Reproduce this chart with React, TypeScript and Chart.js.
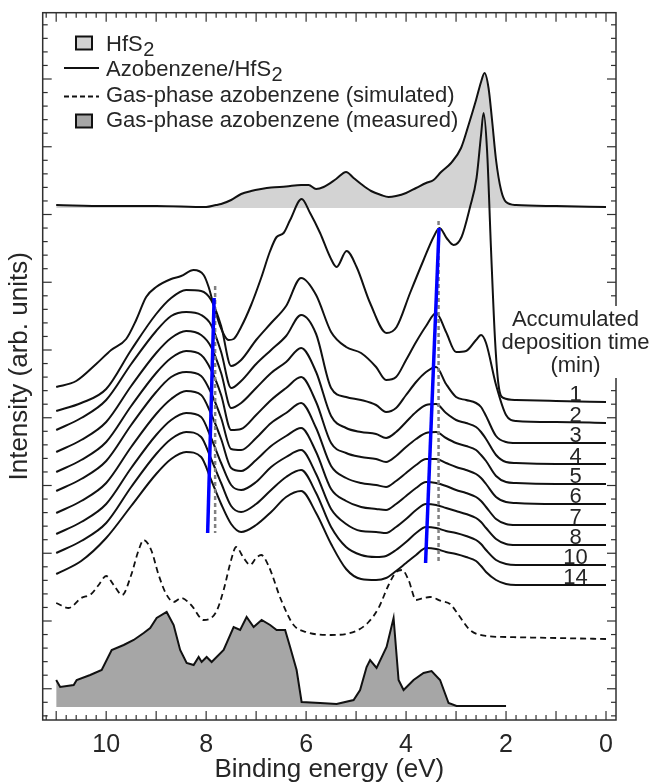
import React, { useEffect, useRef } from 'react';
import { Chart, registerables } from 'chart.js';

Chart.register(...registerables);

// ---------- data (binding energy in eV, intensity in arb. units) ----------
const T1_EV = [11.0, 10.6, 10.2, 9.9, 9.6, 9.4, 9.2, 9.0, 8.7, 8.5, 8.25, 8.05, 7.95, 7.85, 7.72, 7.55, 7.45, 7.3, 7.1, 6.9, 6.72, 6.59, 6.45, 6.32, 6.09, 5.92, 5.72, 5.52, 5.39, 5.19, 4.99, 4.72, 4.39, 4.19, 3.92, 3.65, 3.45, 3.33, 3.19, 3.05, 2.89, 2.72, 2.59, 2.5, 2.45, 2.38, 2.3, 2.22, 2.15, 2.05, 1.8, 1.0, 0.0];
const T1 = [333, 339, 356, 370, 381, 400, 423, 433, 441, 444, 450, 445, 433, 415, 394, 380, 381, 393, 415, 442, 469, 483, 487, 500, 521, 507, 487, 463, 453, 469, 453, 417, 387, 393, 427, 460, 483, 492, 482, 475, 483, 513, 542, 585, 607, 570, 470, 380, 335, 322, 320, 319, 318];

const GRID_EV = [11, 10.5, 10, 9.5, 9, 8.7, 8.4, 8.1, 7.9, 7.7, 7.5, 7.3, 7.0, 6.7, 6.4, 6.1, 5.8, 5.5, 5.2, 4.9, 4.6, 4.4, 4.2, 4.0, 3.8, 3.6, 3.4, 3.2, 3.0, 2.8, 2.6, 2.5, 2.4, 2.2, 2.0, 1.8, 1.0, 0];
const T2 = [309, 317, 331, 370, 406, 422, 430, 429, 420, 394, 354, 360, 380, 397, 414, 442, 425, 388, 373, 367, 353, 340, 343, 360, 378, 394, 407, 388, 368, 369, 380, 385, 377, 335, 305, 299, 298, 297];
const T3 = [290, 302, 320, 356, 389, 404, 408, 405, 395, 368, 332, 339, 356, 370, 384, 405, 386, 332, 323, 320, 315, 308, 312, 325, 338, 348, 353, 336, 323, 320, 317, 313, 304, 284, 278, 277, 277, 277];
const T4 = [268, 280, 298, 334, 367, 382, 389, 385, 373, 347, 312, 317, 332, 347, 358, 372, 348, 304, 292, 288, 286, 282, 288, 298, 308, 315, 316, 307, 300, 297, 293, 288, 281, 265, 258, 257, 256, 256];
const T5 = [248, 260, 278, 314, 347, 362, 369, 365, 350, 325, 290, 291, 305, 320, 332, 343, 318, 277, 267, 263, 261, 258, 264, 273, 281, 287, 288, 282, 277, 274, 270, 265, 259, 244, 238, 237, 236, 236];
const T6 = [229, 241, 259, 295, 328, 343, 348, 344, 327, 302, 271, 270, 282, 297, 307, 317, 292, 254, 242, 237, 235, 233, 239, 247, 255, 261, 261, 257, 253, 250, 246, 242, 236, 223, 218, 217, 216, 216];
const T7 = [207, 219, 237, 273, 306, 321, 329, 325, 306, 281, 252, 249, 260, 274, 284, 292, 268, 231, 219, 213, 211, 210, 216, 224, 232, 238, 237, 234, 230, 227, 223, 219, 213, 201, 196, 195, 195, 195];
const T8 = [186, 198, 216, 252, 285, 300, 307, 303, 282, 257, 235, 230, 238, 253, 263, 270, 246, 211, 196, 189, 188, 187, 193, 201, 210, 216, 215, 212, 209, 206, 202, 198, 192, 181, 176, 175, 175, 175];
const T10 = [167, 179, 197, 233, 266, 281, 288, 283, 261, 237, 214, 208, 216, 230, 243, 250, 227, 193, 173, 165, 163, 164, 170, 178, 187, 193, 192, 189, 187, 184, 180, 176, 170, 160, 156, 155, 155, 155];
const T14 = [146, 159, 182, 214, 246, 261, 268, 263, 240, 216, 196, 188, 195, 208, 223, 229, 207, 176, 151, 141, 140, 142, 149, 157, 165, 172, 171, 168, 166, 163, 159, 154, 148, 140, 136, 135, 135, 135];
const DEPOSITION_MIN = ['1', '2', '3', '4', '5', '6', '7', '8', '10', '14'];

const HFS2_EV = [11, 10, 9, 8, 7.8, 7.7, 7.5, 7.3, 7.1, 6.9, 6.7, 6.4, 6.1, 5.95, 5.8, 5.65, 5.4, 5.2, 5.05, 4.9, 4.7, 4.5, 4.35, 4.2, 4.0, 3.8, 3.6, 3.45, 3.3, 3.1, 2.9, 2.75, 2.6, 2.5, 2.43, 2.35, 2.28, 2.2, 2.1, 2.0, 1.8, 1.0, 0];
const HFS2 = [515, 514, 514, 513, 515, 516, 520, 526, 529, 531, 532.5, 533.5, 535, 535, 531, 533, 541, 548, 542, 536, 529, 525, 523, 524, 527, 532, 537, 540, 548, 557, 572, 595, 620, 638, 647, 632, 600, 560, 530, 518, 515, 514, 513];
const HFS2_BASE = 512;

const SIM_EV = [11, 10.75, 10.5, 10.3, 10.15, 10.0, 9.85, 9.68, 9.5, 9.35, 9.25, 9.1, 8.95, 8.8, 8.65, 8.5, 8.3, 8.05, 7.8, 7.65, 7.5, 7.4, 7.25, 7.12, 7.0, 6.9, 6.75, 6.5, 6.25, 6.0, 5.5, 5.0, 4.75, 4.55, 4.35, 4.2, 4.08, 3.95, 3.8, 3.65, 3.52, 3.3, 3.12, 2.95, 2.72, 2.4, 2.0, 1.0, 0.0];
const SIM = [117, 112, 122, 126, 135, 144, 135, 125, 145, 170, 180, 170, 145, 126, 118, 122, 115, 100, 108, 130, 160, 173, 162, 155, 162, 165, 154, 120, 95, 88, 85, 89, 98, 112, 135, 148, 150, 140, 120, 122, 123, 119, 116, 105, 90, 84, 83, 82, 81];

const MEAS_EV = [11, 10.92, 10.65, 10.59, 10.32, 10.09, 9.89, 9.65, 9.45, 9.25, 9.12, 8.99, 8.79, 8.65, 8.52, 8.39, 8.25, 8.15, 8.09, 7.99, 7.89, 7.65, 7.45, 7.32, 7.19, 7.05, 6.89, 6.72, 6.59, 6.42, 6.32, 6.19, 6.09, 5.72, 5.39, 5.05, 4.92, 4.79, 4.72, 4.59, 4.39, 4.25, 4.15, 4.05, 3.85, 3.65, 3.49, 3.32, 3.15, 2.99, 2.0];
const MEAS = [40, 33, 35, 40, 45, 50, 70, 75, 80, 87, 92, 102, 108, 95, 70, 57, 55, 63, 58, 63, 58, 70, 93, 90, 103, 93, 100, 95, 90, 90, 73, 50, 18, 17, 16, 20, 30, 53, 60, 52, 73, 102, 40, 30, 40, 47, 49, 40, 17, 14, 14];
const MEAS_BASE = 13;

const BLUE_LEFT_EV = [7.84, 7.97];
const BLUE_LEFT = [422, 187];
const GRAY_LEFT_EV = [7.82, 7.82];
const GRAY_LEFT = [434, 187];
const BLUE_RIGHT_EV = [3.34, 3.61];
const BLUE_RIGHT = [492, 157];
const GRAY_RIGHT_EV = [3.35, 3.35];
const GRAY_RIGHT = [499, 156];

const X_TICK_LABELS = [10, 8, 6, 4, 2, 0];
const Y_FIRST_MINOR = 4.15;
const Y_MINOR_STEP = 13.55;

// ---------- styling ----------
const FONT = '"Liberation Sans", Arial, Helvetica, sans-serif';
const INK = '#262626';
const LIGHT_FILL = '#d3d3d3';
const DARK_FILL = '#a6a6a6';

const pts = (xs: number[], ys: number[]) => xs.map((x, i) => ({ x, y: ys[i] }));

function drawSub(ctx: CanvasRenderingContext2D, x: number, y: number, main: string, sub?: string) {
  ctx.font = `22px ${FONT}`;
  ctx.textAlign = 'left';
  ctx.fillText(main, x, y);
  if (sub) {
    const w = ctx.measureText(main).width;
    ctx.font = `20px ${FONT}`;
    ctx.fillText(sub, x + w + 0.5, y + 5);
  }
}

const decor = {
  id: 'decor',
  afterDatasetsDraw(chart: any) {
    const { ctx, chartArea: a, scales } = chart;
    const xs = scales.x;
    const ys = scales.y;
    ctx.save();
    ctx.strokeStyle = '#303030';
    ctx.lineWidth = 1.2;
    const seg = (x1: number, y1: number, x2: number, y2: number) => {
      ctx.beginPath();
      ctx.moveTo(x1, y1);
      ctx.lineTo(x2, y2);
      ctx.stroke();
    };
    for (let i = 0; i <= 56; i++) {
      const v = i / 5;
      if (v > xs.max) continue;
      const px = xs.getPixelForValue(v);
      const len = i % 5 === 0 ? 9 : 5;
      seg(px, a.bottom, px, a.bottom - len);
      seg(px, a.top, px, a.top + len);
    }
    for (let k = 0; k < 60; k++) {
      const v = Y_FIRST_MINOR + k * Y_MINOR_STEP;
      if (v > ys.max) break;
      const py = ys.getPixelForValue(v);
      const len = (k - 2) % 5 === 0 ? 9 : 5;
      seg(a.left, py, a.left + len, py);
      seg(a.right, py, a.right - len, py);
    }
    ctx.lineWidth = 1.5;
    ctx.strokeRect(a.left, a.top, a.right - a.left, a.bottom - a.top);

    ctx.fillStyle = INK;
    ctx.font = `25px ${FONT}`;
    ctx.textAlign = 'center';
    ctx.textBaseline = 'alphabetic';
    X_TICK_LABELS.forEach((v) => ctx.fillText(String(v), xs.getPixelForValue(v), 752));
    ctx.font = `26px ${FONT}`;
    ctx.fillText('Binding energy (eV)', (a.left + a.right) / 2, 777);
    ctx.save();
    ctx.translate(27, (a.top + a.bottom) / 2);
    ctx.rotate(-Math.PI / 2);
    ctx.fillText('Intensity (arb. units)', 0, 0);
    ctx.restore();

    ctx.fillStyle = '#ffffff';
    ctx.fillRect(500, 306, 149, 72);
    ctx.fillStyle = INK;
    ctx.font = `22px ${FONT}`;
    ctx.textAlign = 'center';
    ctx.fillText('Accumulated', 575.5, 326);
    ctx.fillText('deposition time', 575.5, 349);
    ctx.fillText('(min)', 575.5, 372);

    const ends = [T1, T2, T3, T4, T5, T6, T7, T8, T10, T14].map((t) => t[t.length - 1]);
    DEPOSITION_MIN.forEach((lab, i) => {
      ctx.fillText(lab, 575.5, ys.getPixelForValue(ends[i]) - 1.5);
    });

    ctx.strokeStyle = '#111';
    ctx.lineWidth = 2;
    ctx.fillStyle = LIGHT_FILL;
    ctx.fillRect(76, 36.5, 16, 13);
    ctx.strokeRect(76, 36.5, 16, 13);
    ctx.fillStyle = DARK_FILL;
    ctx.fillRect(76, 114.5, 16, 13);
    ctx.strokeRect(76, 114.5, 16, 13);
    seg(64, 68, 99, 68);
    ctx.setLineDash([5, 3]);
    seg(64, 96.5, 99, 96.5);
    ctx.setLineDash([]);
    ctx.fillStyle = INK;
    drawSub(ctx, 106, 51, 'HfS', '2');
    drawSub(ctx, 106, 76, 'Azobenzene/HfS', '2');
    drawSub(ctx, 106, 102, 'Gas-phase azobenzene (simulated)');
    drawSub(ctx, 106, 127, 'Gas-phase azobenzene (measured)');
    ctx.restore();
  },
};

export default function App() {
  const ref = useRef<HTMLCanvasElement>(null);
  useEffect(() => {
    const canvas = ref.current;
    if (!canvas) return;
    const traceBase = {
      borderColor: '#111',
      borderWidth: 2,
      pointRadius: 0,
      fill: false,
      cubicInterpolationMode: 'monotone' as const,
      order: 2,
    };
    const traces = [T2, T3, T4, T5, T6, T7, T8, T10, T14].map((t) => ({
      ...traceBase,
      data: pts(GRID_EV, t),
    }));
    const chart = new Chart(canvas, {
      type: 'line',
      data: {
        datasets: [
          { borderColor: '#0000ff', borderWidth: 3.5, pointRadius: 0, tension: 0, order: 0, data: pts(BLUE_LEFT_EV, BLUE_LEFT) },
          { borderColor: '#0000ff', borderWidth: 3.5, pointRadius: 0, tension: 0, order: 0, data: pts(BLUE_RIGHT_EV, BLUE_RIGHT) },
          { borderColor: '#808080', borderWidth: 2.5, borderDash: [4, 3], pointRadius: 0, tension: 0, order: 1, data: pts(GRAY_LEFT_EV, GRAY_LEFT) },
          { borderColor: '#808080', borderWidth: 2.5, borderDash: [4, 3], pointRadius: 0, tension: 0, order: 1, data: pts(GRAY_RIGHT_EV, GRAY_RIGHT) },
          { ...traceBase, data: pts(T1_EV, T1) },
          ...traces,
          { borderColor: '#111', borderWidth: 1.8, borderDash: [6, 4], pointRadius: 0, cubicInterpolationMode: 'monotone', order: 3, data: pts(SIM_EV, SIM) },
          { borderColor: '#111', borderWidth: 2, pointRadius: 0, tension: 0, order: 4, backgroundColor: DARK_FILL, fill: { value: MEAS_BASE }, data: pts(MEAS_EV, MEAS) },
          { borderColor: '#111', borderWidth: 2, pointRadius: 0, cubicInterpolationMode: 'monotone', order: 5, backgroundColor: LIGHT_FILL, fill: { value: HFS2_BASE }, data: pts(HFS2_EV, HFS2) },
        ] as any,
      },
      options: {
        animation: false,
        responsive: true,
        maintainAspectRatio: false,
        events: [],
        layout: { padding: { left: 42.7, top: 12.7, right: 33, bottom: 63 } },
        plugins: { legend: { display: false }, tooltip: { enabled: false }, title: { display: false } },
        scales: {
          x: { type: 'linear', reverse: true, min: -0.2, max: 11.27, display: false },
          y: { type: 'linear', min: 0, max: 707.3, display: false },
        },
      },
      plugins: [decor],
    });
    return () => chart.destroy();
  }, []);
  return (
    <div style={{ position: 'fixed', left: 0, top: 0, width: 649, height: 783, background: '#fff' }}>
      <canvas ref={ref} />
    </div>
  );
}
